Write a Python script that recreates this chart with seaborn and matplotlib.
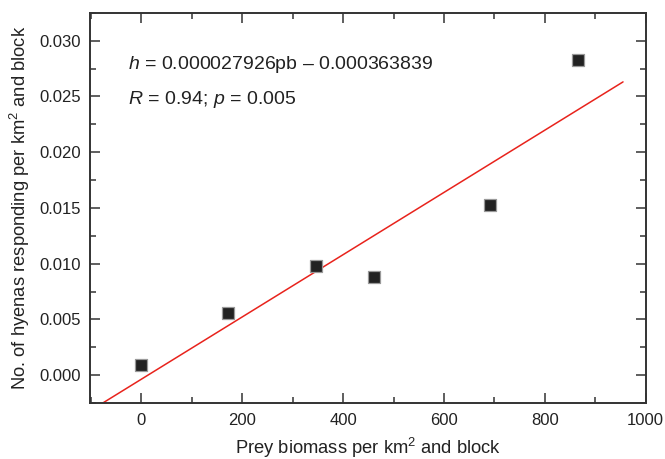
import numpy as np
import pandas as pd
import matplotlib
matplotlib.use('Agg')
import matplotlib.pyplot as plt
import seaborn as sns
from matplotlib.ticker import MultipleLocator

# prey biomass per km2 and block vs hyenas responding
biomass = [0, 172, 347, 462, 692, 866]
hyenas = [0.0009, 0.0056, 0.0098, 0.0088, 0.0153, 0.0283]

# fitted line h = a*pb + b
slope = 0.000027926
intercept = -0.000363839
line_x = [-80, 955]

sns.set_style('ticks')
plt.rcParams['font.family'] = ['Liberation Sans', 'DejaVu Sans']
plt.rcParams['mathtext.fontset'] = 'custom'
plt.rcParams['mathtext.rm'] = 'Liberation Sans'
plt.rcParams['mathtext.it'] = 'Liberation Sans:italic'

df = pd.DataFrame({'biomass': biomass, 'hyenas': hyenas})
line_df = pd.DataFrame({'x': line_x})
line_df['y'] = slope * line_df['x'] + intercept

fig, ax = plt.subplots(figsize=(6.65, 4.59), dpi=100)

sns.lineplot(data=line_df, x='x', y='y', color='#e8231c', linewidth=1.1, ax=ax)
sns.scatterplot(data=df, x='biomass', y='hyenas', marker='s', s=65,
                color='#222222', edgecolor='#999999', linewidth=0.9, ax=ax, zorder=3)

ax.set_xlim(-101, 1000)
ax.set_ylim(-0.0025, 0.0325)
ax.xaxis.set_major_locator(MultipleLocator(200))
ax.xaxis.set_minor_locator(MultipleLocator(100))
ax.yaxis.set_major_locator(MultipleLocator(0.005))
ax.yaxis.set_minor_locator(MultipleLocator(0.0025))
ax.yaxis.set_major_formatter(matplotlib.ticker.FormatStrFormatter('%.3f'))

ax.tick_params(which='both', direction='in', top=True, right=True,
               labeltop=False, labelright=False, color='#333333',
               labelsize=12, labelcolor='#222222')
ax.tick_params(which='major', length=7, width=1.1, pad=7)
ax.tick_params(which='minor', length=4, width=1.1)
for sp in ax.spines.values():
    sp.set_linewidth(1.4)
    sp.set_color('#333333')

ax.set_xlabel('Prey biomass per km$^2$ and block', fontsize=13.2, color='#222222', labelpad=6)
ax.set_ylabel('No. of hyenas responding per km$^2$ and block', fontsize=13.2, color='#222222', labelpad=5)

ax.text(0.067, 0.867, '$h$ = 0.000027926pb \u2013 0.000363839', transform=ax.transAxes,
        fontsize=14, color='#222222', va='center')
ax.text(0.067, 0.777, '$R$ = 0.94; $p$ = 0.005', transform=ax.transAxes,
        fontsize=14, color='#222222', va='center')

plt.subplots_adjust(left=0.136, right=0.971, top=0.972, bottom=0.122)
plt.savefig('out.png', dpi=100)
